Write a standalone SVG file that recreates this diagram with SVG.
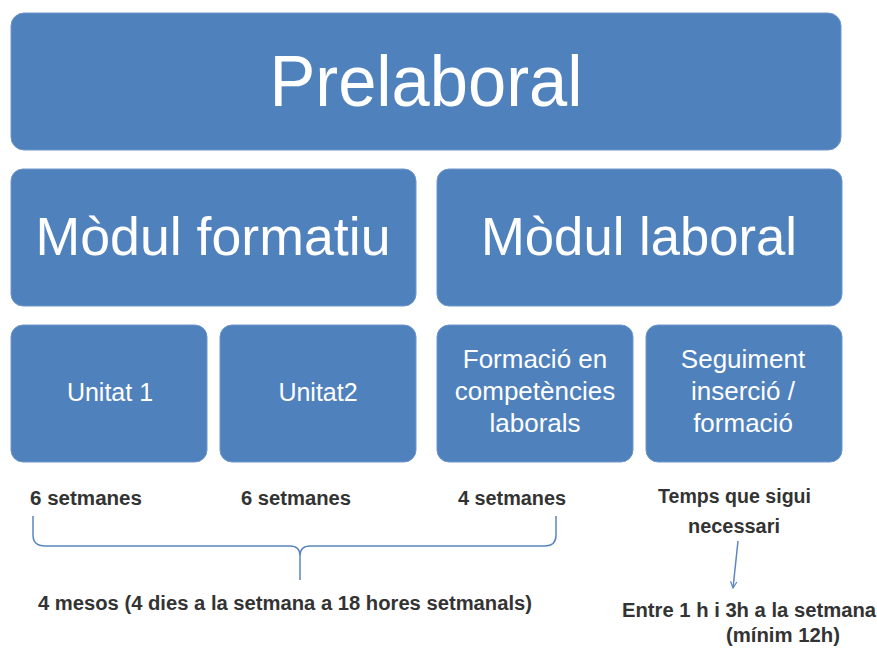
<svg xmlns="http://www.w3.org/2000/svg" width="877" height="648" viewBox="0 0 877 648">
<defs>
<style>
.box{fill:#4F81BD;stroke:#6E96CB;stroke-width:1}
.wt{fill:#FFFFFF;font-family:"Liberation Sans",Arial,sans-serif;text-anchor:middle}
.lbl{fill:#333333;font-family:"Liberation Sans",Arial,sans-serif;font-size:20px;font-weight:bold}
.con{fill:none;stroke:#5B86C0;stroke-width:1.5}
</style>
<marker id="ah" viewBox="0 0 10 10" refX="9" refY="5" markerWidth="8" markerHeight="8" orient="auto" markerUnits="userSpaceOnUse">
<path d="M1,1 L9,5 L1,9" fill="none" stroke="#5B86C0" stroke-width="1.5"/>
</marker>
</defs>
<rect width="877" height="648" fill="#FFFFFF"/>
<g id="prelaboral">
<rect class="box" x="11" y="13" width="830" height="137" rx="13"/>
<text class="wt" x="426" y="106" font-size="72" textLength="313" lengthAdjust="spacingAndGlyphs">Prelaboral</text>
</g>
<g id="modul-formatiu">
<rect class="box" x="11" y="169" width="405" height="137" rx="12"/>
<text class="wt" x="213" y="255" font-size="53" textLength="355" lengthAdjust="spacingAndGlyphs">Mòdul formatiu</text>
</g>
<g id="modul-laboral">
<rect class="box" x="437" y="169" width="405" height="137" rx="12"/>
<text class="wt" x="639" y="255" font-size="53" textLength="316" lengthAdjust="spacingAndGlyphs">Mòdul laboral</text>
</g>
<g id="unitat1">
<rect class="box" x="11" y="325" width="196" height="137" rx="12"/>
<text class="wt" x="110" y="401" font-size="25">Unitat 1</text>
</g>
<g id="unitat2">
<rect class="box" x="220" y="325" width="196" height="137" rx="12"/>
<text class="wt" x="318" y="401" font-size="25">Unitat2</text>
</g>
<g id="formacio">
<rect class="box" x="437" y="325" width="196" height="137" rx="12"/>
<text class="wt" font-size="26"><tspan x="535" y="368">Formació  en</tspan><tspan x="535" y="400">competències</tspan><tspan x="535" y="432">laborals</tspan></text>
</g>
<g id="seguiment">
<rect class="box" x="646" y="325" width="196" height="137" rx="12"/>
<text class="wt" font-size="26"><tspan x="743" y="368">Seguiment</tspan><tspan x="743" y="400">inserció /</tspan><tspan x="743" y="432">formació</tspan></text>
</g>
<g id="labels">
<text class="lbl" x="30" y="505" textLength="112" lengthAdjust="spacingAndGlyphs">6 setmanes</text>
<text class="lbl" x="241" y="505" textLength="110" lengthAdjust="spacingAndGlyphs">6 setmanes</text>
<text class="lbl" x="458" y="505" textLength="108" lengthAdjust="spacingAndGlyphs">4 setmanes</text>
<text class="lbl" x="658" y="503" textLength="153" lengthAdjust="spacingAndGlyphs">Temps que sigui</text>
<text class="lbl" x="688" y="533" textLength="92" lengthAdjust="spacingAndGlyphs">necessari</text>
<text class="lbl" x="38" y="610" textLength="494" lengthAdjust="spacingAndGlyphs">4 mesos (4 dies a la setmana a 18 hores setmanals)</text>
<text class="lbl" x="622" y="617" textLength="254" lengthAdjust="spacingAndGlyphs">Entre 1 h i 3h a la setmana</text>
<text class="lbl" x="726" y="642" textLength="114" lengthAdjust="spacingAndGlyphs">(mínim 12h)</text>
</g>
<g id="connectors">
<path class="con" d="M33,516 L33,535 Q33,546 45,546 L290,546 Q300,546 300,556 L300,580 M300,556 Q300,546 310,546 L545,546 Q556,546 556,535 L556,516"/>
<line class="con" x1="738" y1="541" x2="733" y2="588" marker-end="url(#ah)"/>
</g>
</svg>
